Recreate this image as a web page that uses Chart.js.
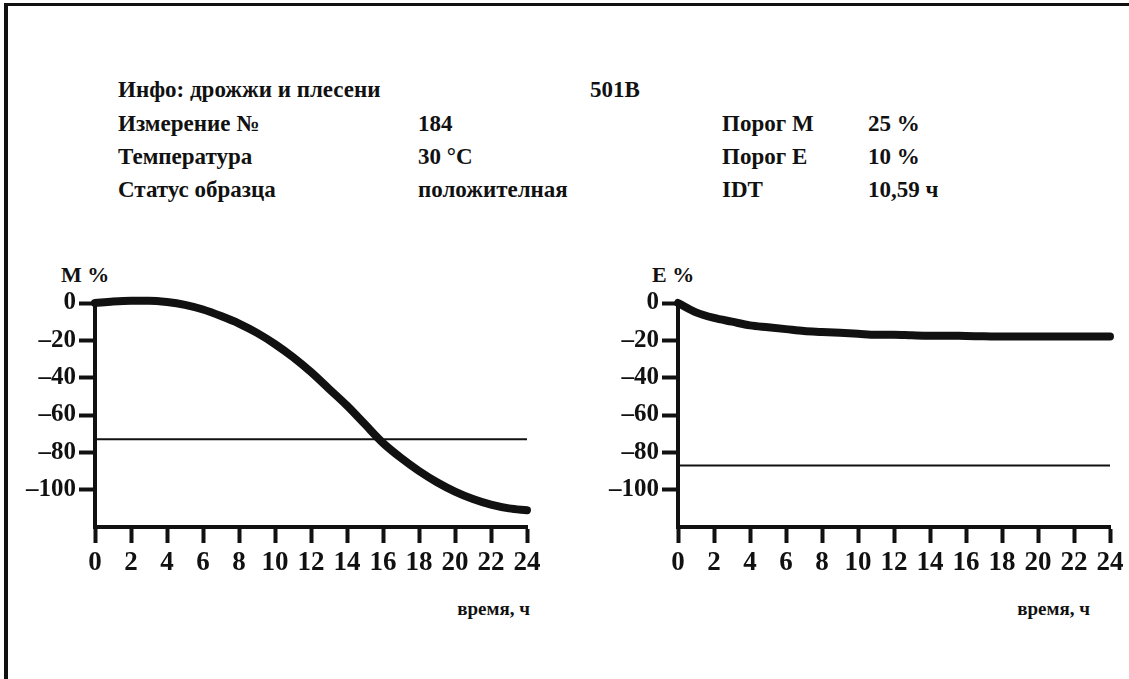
<!DOCTYPE html>
<html>
<head>
<meta charset="utf-8">
<script src="https://cdn.jsdelivr.net/npm/chart.js@4/dist/chart.umd.min.js"></script>
<style>
  body { margin: 0; width: 1129px; height: 679px; overflow: hidden; background: #fff;
         font-family: "Liberation Serif", "DejaVu Serif", serif; font-weight: bold; color: #111; }
  #frame { position: absolute; left: 4px; top: 3px; width: 1125px; height: 673px;
           border-left: 4px solid #111; border-top: 3px solid #111; border-bottom: 1px solid #999; }
  .t { position: absolute; font-size: 23px; line-height: 26px; white-space: nowrap; }
  .ax { position: absolute; font-size: 22px; line-height: 24px; white-space: nowrap; }
  .unit { position: absolute; font-size: 19px; line-height: 22px; white-space: nowrap; text-align: right; }
  canvas { position: absolute; }
</style>
</head>
<body>
<div id="frame"></div>

<div class="t" style="left:118px; top:77px">Инфо: дрожжи и плесени</div>
<div class="t" style="left:590px; top:77px">501B</div>
<div class="t" style="left:118px; top:111px">Измерение №</div>
<div class="t" style="left:418px; top:111px">184</div>
<div class="t" style="left:722px; top:111px">Порог M</div>
<div class="t" style="left:868px; top:111px">25 %</div>
<div class="t" style="left:118px; top:144px">Температура</div>
<div class="t" style="left:418px; top:144px">30 °C</div>
<div class="t" style="left:722px; top:144px">Порог E</div>
<div class="t" style="left:868px; top:144px">10 %</div>
<div class="t" style="left:118px; top:177px">Статус образца</div>
<div class="t" style="left:418px; top:177px">положителная</div>
<div class="t" style="left:722px; top:177px">IDT</div>
<div class="t" style="left:868px; top:177px">10,59 ч</div>

<div class="ax" style="left:61px; top:263px">M %</div>
<div class="ax" style="left:652px; top:263px">E %</div>
<div class="unit" style="right:599px; top:598px">время, ч</div>
<div class="unit" style="right:39px; top:598px">время, ч</div>

<canvas id="chartM" width="560" height="317" style="left:0px; top:270px"></canvas>
<canvas id="chartE" width="546" height="317" style="left:583px; top:270px"></canvas>

<script>
const hours = [0, 1, 2, 3, 4, 5, 6, 7, 8, 9, 10, 11, 12, 13, 14, 15, 16, 17, 18, 19, 20, 21, 22, 23, 24];
const mValues = [0, 0.8, 1.2, 1.2, 0.5, -1, -3.5, -7, -11, -16, -22, -29, -37, -46, -55, -65, -75, -83, -90, -96, -101, -105, -108, -110, -111];
const eValues = [0, -5, -8, -10, -12, -13, -14, -15, -15.5, -16, -16.5, -17, -17, -17.3, -17.5, -17.5, -17.7, -17.8, -18, -18, -18, -18, -18, -18, -18];
const mThreshold = -73;
const eThreshold = -87;
const xTicks = [0, 2, 4, 6, 8, 10, 12, 14, 16, 18, 20, 22, 24];
const yTicks = [0, -20, -40, -60, -80, -100];

const ink = '#111';
const xFont = { family: 'Liberation Serif', size: 27, weight: 'bold' };
const yFont = { family: 'Liberation Serif', size: 25, weight: 'bold' };

function fmt(v) {
    return v < 0 ? '\u2013' + Math.abs(v) : String(v);
}

function makeChart(id, values, threshold, padRight) {
    const ctx = document.getElementById(id).getContext('2d');
    return new Chart(ctx, {
        type: 'line',
        data: {
            datasets: [
                {
                    data: hours.map((h, i) => ({ x: h, y: values[i] })),
                    borderColor: ink,
                    borderWidth: 8,
                    borderCapStyle: 'round',
                    pointRadius: 0,
                    cubicInterpolationMode: 'monotone',
                    clip: false
                },
                {
                    data: [{ x: hours[0], y: threshold }, { x: hours[hours.length - 1], y: threshold }],
                    borderColor: ink,
                    borderWidth: 2,
                    pointRadius: 0
                }
            ]
        },
        options: {
            responsive: false,
            animation: false,
            layout: { padding: { left: 0, right: padRight, top: 33, bottom: 10 } },
            plugins: { legend: { display: false }, tooltip: { enabled: false } },
            scales: {
                x: {
                    type: 'linear',
                    min: 0,
                    max: 24,
                    border: { display: true, width: 4, color: ink },
                    grid: { drawOnChartArea: false, tickLength: 16, tickWidth: 4, tickColor: ink, color: ink },
                    ticks: { color: ink, font: xFont, padding: 4, maxRotation: 0, autoSkip: false, callback: fmt },
                    afterBuildTicks: s => { s.ticks = xTicks.map(v => ({ value: v })); },
                    afterFit: s => { s.height = 50; }
                },
                y: {
                    min: -120,
                    max: 0,
                    border: { display: true, width: 4, color: ink },
                    grid: { drawOnChartArea: false, tickLength: 16, tickWidth: 4, tickColor: ink, color: ink },
                    ticks: { color: ink, font: yFont, padding: 3, callback: fmt },
                    afterBuildTicks: s => { s.ticks = yTicks.map(v => ({ value: v })); },
                    afterFit: s => { s.width = 95; }
                }
            }
        }
    });
}

makeChart('chartM', mValues, mThreshold, 33);
makeChart('chartE', eValues, eThreshold, 19);
</script>
</body>
</html>
